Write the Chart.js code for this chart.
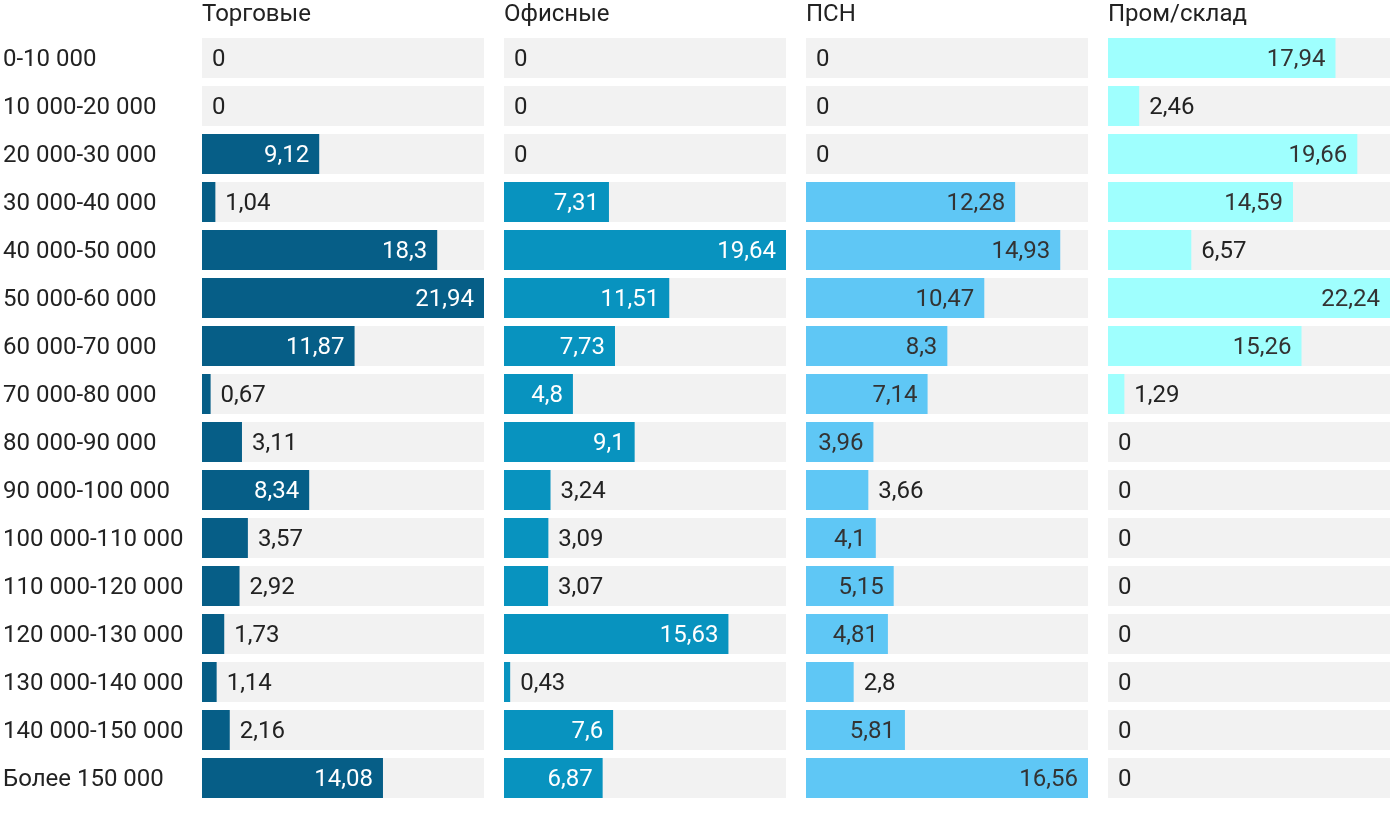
<!DOCTYPE html>
<html>
<head>
<meta charset="utf-8">
<script src="https://cdn.jsdelivr.net/npm/chart.js@4"></script>
<style>
  html, body { margin: 0; padding: 0; background: #fff; }
  #wrap { position: relative; width: 1400px; height: 814px; }
  .panel { position: absolute; top: 0; height: 814px; }
</style>
</head>
<body>
<div id="wrap">
  <div class="panel" style="left:0;width:484px"><canvas id="c1"></canvas></div>
  <div class="panel" style="left:504px;width:282px"><canvas id="c2"></canvas></div>
  <div class="panel" style="left:806px;width:282px"><canvas id="c3"></canvas></div>
  <div class="panel" style="left:1108px;width:282px"><canvas id="c4"></canvas></div>
</div>
<script>
  // Диапазоны ставок
  const categories = [
    "0-10 000", "10 000-20 000", "20 000-30 000", "30 000-40 000",
    "40 000-50 000", "50 000-60 000", "60 000-70 000", "70 000-80 000",
    "80 000-90 000", "90 000-100 000", "100 000-110 000", "110 000-120 000",
    "120 000-130 000", "130 000-140 000", "140 000-150 000", "Более 150 000"
  ];

  // Доли по типам, %
  const torgovye = [0, 0, 9.12, 1.04, 18.3, 21.94, 11.87, 0.67, 3.11, 8.34, 3.57, 2.92, 1.73, 1.14, 2.16, 14.08];
  const ofisnye  = [0, 0, 0, 7.31, 19.64, 11.51, 7.73, 4.8, 9.1, 3.24, 3.09, 3.07, 15.63, 0.43, 7.6, 6.87];
  const psn      = [0, 0, 0, 12.28, 14.93, 10.47, 8.3, 7.14, 3.96, 3.66, 4.1, 5.15, 4.81, 2.8, 5.81, 16.56];
  const promSklad = [17.94, 2.46, 19.66, 14.59, 6.57, 22.24, 15.26, 1.29, 0, 0, 0, 0, 0, 0, 0, 0];

  const panelTitles = ["Торговые", "Офисные", "ПСН", "Пром/склад"];

  const FONT = "Roboto, 'Noto Sans', sans-serif";
  const FSIZE = 24;

  // фон + подписи значений
  const panelPlugin = {
    id: "panelPlugin",
    beforeDatasetsDraw(chart) {
      const { ctx, chartArea } = chart;
      const meta = chart.getDatasetMeta(0);
      ctx.save();
      ctx.fillStyle = "#f2f2f2";
      meta.data.forEach((bar) => {
        ctx.fillRect(chartArea.left, bar.y - bar.height / 2, chartArea.right - chartArea.left, bar.height);
      });
      ctx.restore();
    },
    afterDatasetsDraw(chart) {
      const { ctx, chartArea } = chart;
      const opts = chart.options.plugins.panelPlugin;
      const meta = chart.getDatasetMeta(0);
      const data = chart.data.datasets[0].data;
      ctx.save();
      ctx.font = FSIZE + "px " + FONT;
      ctx.textBaseline = "middle";
      meta.data.forEach((bar, i) => {
        const txt = String(data[i]).replace(".", ",");
        const w = bar.x - chartArea.left;
        if (w > opts.insideMin) {
          ctx.fillStyle = opts.insideColor;
          ctx.textAlign = "right";
          ctx.fillText(txt, bar.x - 10, bar.y + 2);
        } else {
          ctx.fillStyle = "#222";
          ctx.textAlign = "left";
          ctx.fillText(txt, Math.max(bar.x, chartArea.left) + 10, bar.y + 2);
        }
      });
      // заголовок панели
      ctx.fillStyle = "#222";
      ctx.textAlign = "left";
      ctx.fillText(opts.title, chartArea.left, 15);
      ctx.restore();
    }
  };

  function makePanel(id, values, title, color, insideColor, insideMin, showLabels) {
    const ctx = document.getElementById(id).getContext("2d");
    return new Chart(ctx, {
      type: "bar",
      data: {
        labels: categories,
        datasets: [{
          data: values,
          backgroundColor: color,
          barPercentage: 40 / 48,
          categoryPercentage: 1,
          borderWidth: 0
        }]
      },
      options: {
        indexAxis: "y",
        responsive: true,
        maintainAspectRatio: false,
        animation: false,
        layout: { padding: { top: 34, bottom: 12, left: showLabels ? 3 : 0, right: 0 } },
        scales: {
          x: { display: false, min: 0, max: Math.max(...values) },
          y: {
            display: showLabels,
            grid: { display: false },
            border: { display: false },
            ticks: {
              color: "#222",
              font: { family: FONT, size: FSIZE, lineHeight: 1 },
              crossAlign: "far",
              labelOffset: 2,
              padding: 0
            },
            afterFit(scale) {
              scale.width = showLabels ? 199 : 0;
              scale.paddingTop = 0;
              scale.paddingBottom = 0;
            }
          }
        },
        plugins: {
          legend: { display: false },
          tooltip: { enabled: false },
          panelPlugin: { title: title, insideColor: insideColor, insideMin: insideMin }
        }
      },
      plugins: [panelPlugin]
    });
  }

  makePanel("c1", torgovye, panelTitles[0], "#065e87", "#fff", 64, true);
  makePanel("c2", ofisnye, panelTitles[1], "#0893bf", "#fff", 64, false);
  makePanel("c3", psn, panelTitles[2], "#5fc7f5", "#333", 64, false);
  makePanel("c4", promSklad, panelTitles[3], "#9ffffe", "#333", 100, false);
</script>
</body>
</html>
